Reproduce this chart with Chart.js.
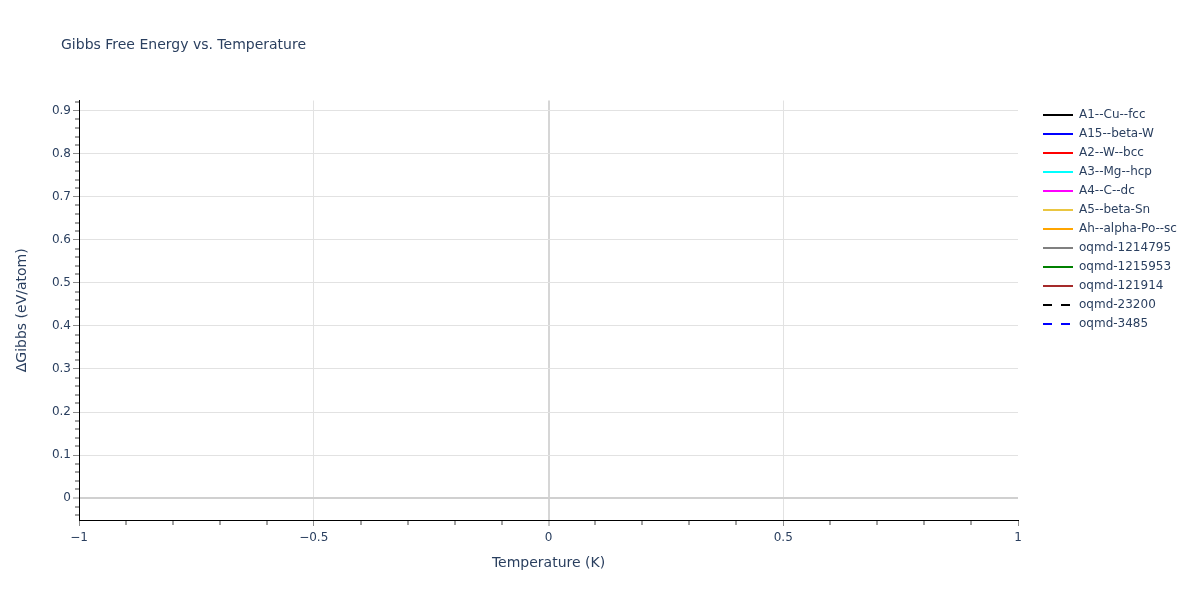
<!DOCTYPE html>
<html>
<head>
<meta charset="utf-8">
<script src="https://cdn.jsdelivr.net/npm/chart.js@4"></script>
<style>
  html, body { margin: 0; padding: 0; background: #ffffff; }
  #wrap { width: 1200px; height: 600px; position: relative; }
</style>
</head>
<body>
<div id="wrap"><canvas id="c"></canvas></div>
<script>
// ---- data ----
const chartTitle = "Gibbs Free Energy vs. Temperature";
const xTitle = "Temperature (K)";
const yTitle = "\u0394Gibbs (eV/atom)";
const seriesNames = ["A1--Cu--fcc", "A15--beta-W", "A2--W--bcc", "A3--Mg--hcp", "A4--C--dc", "A5--beta-Sn",
  "Ah--alpha-Po--sc", "oqmd-1214795", "oqmd-1215953", "oqmd-121914", "oqmd-23200", "oqmd-3485"];
const seriesColors = ["#000000", "#0000ff", "#ff0000", "#00ffff", "#ff00ff", "#eac641",
  "#ffa500", "#808080", "#008000", "#a52a2a", "#000000", "#0000ff"];
const seriesDashed = [false, false, false, false, false, false, false, false, false, false, true, true];
// every series is empty in the reference (no points drawn)
const seriesTemperature = [[], [], [], [], [], [], [], [], [], [], [], []];
const seriesGibbs = [[], [], [], [], [], [], [], [], [], [], [], []];
const xRange = [-1, 1];
const yRange = [-0.051, 0.924];

const FONT = '"DejaVu Sans", Verdana, sans-serif';
const TXT = '#2a3f5f';

const datasets = seriesNames.map((name, i) => ({
  label: name,
  data: seriesTemperature[i].map((t, k) => ({ x: t, y: seriesGibbs[i][k] })),
  borderColor: seriesColors[i],
  backgroundColor: seriesColors[i],
  borderWidth: 2,
  borderDash: seriesDashed[i] ? [9, 9] : [],
  pointRadius: 0,
  showLine: true,
  fill: false
}));

function isMult(v, step) {
  const r = v / step;
  return Math.abs(r - Math.round(r)) < 1e-6;
}
function fmt(v) {
  const r = Math.round(v * 1000) / 1000;
  if (r === 0) return '0';
  return (r < 0 ? '\u2212' : '') + String(Math.abs(r));
}

const layoutPlugin = {
  id: 'layoutTweaks',
  beforeLayout(chart) {
    const lg = chart.legend;
    if (lg && !lg._patched) {
      const orig = lg.fit.bind(lg);
      lg.fit = function () { orig(); this.width = 182; };
      lg._patched = true;
    }
  },
  afterLayout(chart) {
    const lg = chart.legend;
    if (lg) { lg.left = 1036; lg.right = 1200; lg.top = 102; }
  },
  afterDraw(chart) {
    const ctx = chart.ctx;
    ctx.save();
    ctx.font = '14px ' + FONT;
    ctx.fillStyle = TXT;
    ctx.textAlign = 'left';
    ctx.textBaseline = 'middle';
    ctx.fillText(chartTitle, 61, 45);
    ctx.restore();
  }
};

new Chart(document.getElementById('c'), {
  type: 'scatter',
  data: { datasets },
  plugins: [layoutPlugin],
  options: {
    responsive: true,
    maintainAspectRatio: false,
    animation: false,
    layout: { padding: { top: 100.5, left: 13.6, right: 0, bottom: 28.6 } },
    plugins: {
      title: { display: false },
      tooltip: { enabled: false },
      legend: {
        display: true,
        position: 'right',
        align: 'start',
        fullSize: false,
        labels: {
          usePointStyle: true,
          pointStyle: 'line',
          pointStyleWidth: 30,
          boxWidth: 30,
          boxHeight: 12,
          padding: 7,
          color: TXT,
          font: { family: FONT, size: 12 },
          generateLabels(chart) {
            return chart.data.datasets.map((ds, i) => ({
              text: ds.label,
              strokeStyle: ds.borderColor,
              fillStyle: ds.borderColor,
              lineWidth: 2,
              lineDash: ds.borderDash,
              pointStyle: 'line',
              hidden: false,
              datasetIndex: i,
              fontColor: TXT
            }));
          }
        }
      }
    },
    scales: {
      x: {
        type: 'linear',
        min: xRange[0],
        max: xRange[1],
        afterFit(scale) { scale.height = 51.4; },
        border: { display: true, color: '#000000', width: 1 },
        grid: {
          drawOnChartArea: true,
          tickLength: 6,
          color(ctx) {
            const v = ctx.tick ? ctx.tick.value : 0;
            if (Math.abs(v) < 1e-9) return '#d6d6d6';
            if (isMult(v, 0.5) && Math.abs(Math.abs(v) - 1) > 1e-9) return '#e2e2e2';
            return 'rgba(0,0,0,0)';
          },
          lineWidth(ctx) {
            const v = ctx.tick ? ctx.tick.value : 0;
            if (Math.abs(v) < 1e-9) return 2;
            return isMult(v, 0.5) ? 1 : 0;
          },
          tickColor(ctx) {
            const v = ctx.tick ? ctx.tick.value : 0;
            return isMult(v, 0.5) ? '#8c8c8c' : '#444444';
          },
          tickWidth: 1,
          tickBorderDash(ctx) {
            const v = ctx.tick ? ctx.tick.value : 0;
            return isMult(v, 0.5) ? [] : [4, 100];
          }
        },
        ticks: {
          stepSize: 0.1,
          includeBounds: false,
          autoSkip: false,
          maxRotation: 0,
          padding: 5,
          color: TXT,
          font: { family: FONT, size: 12 },
          callback(v) { return isMult(v, 0.5) ? fmt(v) : ''; }
        },
        title: {
          display: true,
          text: xTitle,
          color: TXT,
          font: { family: FONT, size: 14 },
          padding: { top: 0, bottom: 0 }
        }
      },
      y: {
        type: 'linear',
        min: yRange[0],
        max: yRange[1],
        afterFit(scale) { scale.width = 65.4; },
        border: { display: true, color: '#000000', width: 1 },
        grid: {
          drawOnChartArea: true,
          tickLength: 6,
          color(ctx) {
            const v = ctx.tick ? ctx.tick.value : 0;
            if (Math.abs(v) < 1e-9) return '#d0d0d0';
            return isMult(v, 0.1) ? '#e2e2e2' : 'rgba(0,0,0,0)';
          },
          lineWidth(ctx) {
            const v = ctx.tick ? ctx.tick.value : 0;
            if (Math.abs(v) < 1e-9) return 2;
            return isMult(v, 0.1) ? 1 : 0;
          },
          tickColor(ctx) {
            const v = ctx.tick ? ctx.tick.value : 0;
            return isMult(v, 0.1) ? '#8c8c8c' : '#444444';
          },
          tickWidth: 1,
          tickBorderDash(ctx) {
            const v = ctx.tick ? ctx.tick.value : 0;
            return isMult(v, 0.1) ? [] : [0, 2, 4, 0];
          }
        },
        ticks: {
          stepSize: 0.02,
          includeBounds: false,
          autoSkip: false,
          padding: 2,
          color: TXT,
          font: { family: FONT, size: 12 },
          callback(v) { return isMult(v, 0.1) ? fmt(v) : ''; }
        },
        title: {
          display: true,
          text: yTitle,
          color: TXT,
          font: { family: FONT, size: 14 },
          padding: { top: 0, bottom: 0 }
        }
      }
    }
  }
});
</script>
</body>
</html>
